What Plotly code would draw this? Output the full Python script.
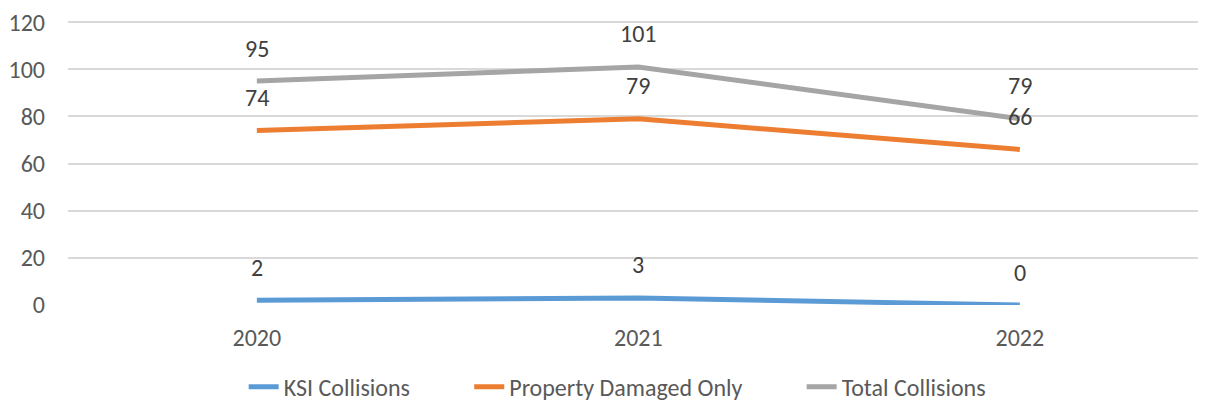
import plotly.graph_objects as go

years = ["2020", "2021", "2022"]
ksi = [2, 3, 0]
property_damaged = [74, 79, 66]
total = [95, 101, 79]

series = [
    ("KSI Collisions", ksi, "#5B9BD5"),
    ("Property Damaged Only", property_damaged, "#ED7D31"),
    ("Total Collisions", total, "#A5A5A5"),
]

FONT = "Carlito, Calibri, sans-serif"
TXT = "#595959"
GAP = "\u00a0" * 10  # extra room between legend entries

fig = go.Figure()
for k, (name, vals, color) in enumerate(series):
    label = name + (GAP if k < len(series) - 1 else "")
    fig.add_trace(go.Scatter(x=years, y=vals, mode="lines", name=label,
                             line=dict(color=color, width=5)))
    # data labels sit above each point (Excel "above" position)
    for i, v in enumerate(vals):
        fig.add_annotation(x=i, y=v, text=str(v), showarrow=False, yshift=33,
                           font=dict(family=FONT, size=24, color="#404040"))

# page body adds an 8px margin, so the figure is a little smaller than the window
fig.update_layout(
    width=1200, height=395,
    margin=dict(l=60, r=10, t=13, b=98, autoexpand=False),
    plot_bgcolor="white", paper_bgcolor="white",
    font=dict(family=FONT, size=24, color=TXT),
    showlegend=True,
    legend=dict(orientation="h", x=0.486, xanchor="center", y=-0.289, yanchor="middle",
                font=dict(size=24, color=TXT), tracegroupgap=0),
    xaxis=dict(type="category", range=[-0.495, 2.467], showgrid=False, zeroline=False,
               showline=False, ticks="", ticklabelstandoff=16),
    yaxis=dict(range=[0, 120.5], tickvals=[0, 20, 40, 60, 80, 100, 120], showgrid=True,
               gridcolor="#D9D9D9", gridwidth=1.5, zeroline=False, showline=False, ticks="",
               ticklabelstandoff=22, ticklabeloverflow="allow"),
)

fig.write_html("out.html")
